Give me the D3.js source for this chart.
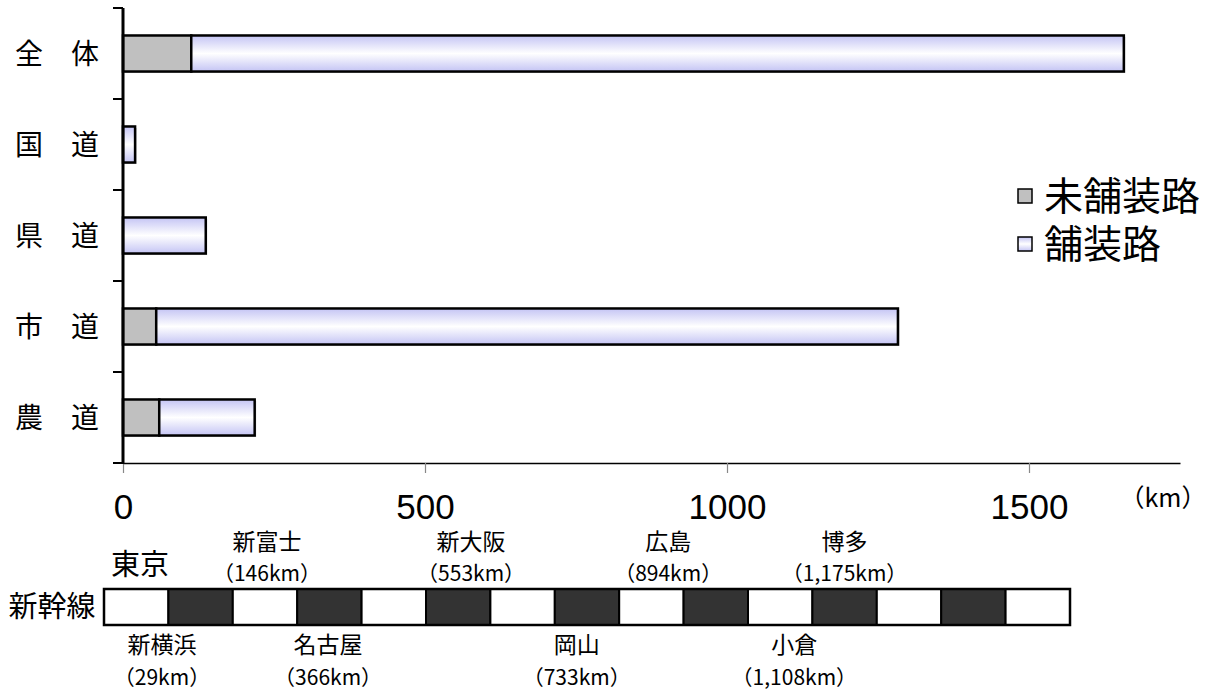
<!DOCTYPE html>
<html>
<head>
<meta charset="utf-8">
<script src="https://cdn.jsdelivr.net/npm/d3@7"></script>
<style>
	body { margin: 0; background: #fff; }
	svg { display: block; }
	text { fill: #000; }
</style>
</head>
<body>
<div id="chart"></div>
<script>
// road categories and lengths (km)
var categories = ['全　体', '国　道', '県　道', '市　道', '農　道'];
var unpaved = [113, 0, 0, 55, 60];
var paved = [1544, 20, 137, 1228, 158];
var xTicks = [0, 500, 1000, 1500];
var seriesNames = ['未舗装路', '舗装路'];

// shinkansen strip: 0 = white block, 1 = dark block
var railBlocks = [0, 1, 0, 1, 0, 1, 0, 1, 0, 1, 0, 1, 0, 1, 0];
var stationNames = ['東京', '新横浜', '新富士', '名古屋', '新大阪', '岡山', '広島', '小倉', '博多'];
var stationKm = [null, '29km', '146km', '366km', '553km', '733km', '894km', '1,108km', '1,175km'];
var stationSide = ['top', 'bottom', 'top', 'bottom', 'top', 'bottom', 'top', 'bottom', 'top'];

(function () {
	var width = 1210;
	var height = 693;
	var cjk = '"Noto Sans CJK JP", sans-serif';
	var paveLight = '#c4c4f4';
	var unpavedFill = '#c0c0c0';
	var darkBlock = '#333333';

	// label anchors along the strip, in block units (layout only)
	var stationSlot = [0.56, 0.9, 2.53, 3.48, 5.7, 7.34, 8.76, 10.72, 11.5];

	var svg = d3.select('#chart').append('svg')
		.attr('width', width).attr('height', height)
		.style('font-family', cjk);

	var defs = svg.append('defs');
	var grad = defs.append('linearGradient')
		.attr('id', 'paveGrad')
		.attr('x1', 0).attr('y1', 0).attr('x2', 0).attr('y2', 1);
	grad.append('stop').attr('offset', '0%').attr('stop-color', paveLight);
	grad.append('stop').attr('offset', '50%').attr('stop-color', '#ffffff');
	grad.append('stop').attr('offset', '100%').attr('stop-color', paveLight);

	///////////////////////////////////////////////////////////////////////////
	////////// scales /////////////////////////////////////////////////////////
	///////////////////////////////////////////////////////////////////////////
	var x = d3.scaleLinear()
		.domain([0, 1750])
		.range([123, 1180]);

	var y = d3.scaleBand()
		.domain(categories)
		.range([8, 463])
		.paddingInner(0.604)
		.paddingOuter(0.302);

	var rows = categories.map((c, i) => ({
		name: c,
		unpaved: unpaved[i],
		paved: paved[i]
	}));

	///////////////////////////////////////////////////////////////////////////
	////////// bars ///////////////////////////////////////////////////////////
	///////////////////////////////////////////////////////////////////////////
	var bars = svg.append('g').classed('bars', true)
		.selectAll('g')
		.data(rows)
		.enter().append('g');

	// faint drop shadow behind each full bar
	bars.append('rect')
		.attr('x', x(0) + 1.5)
		.attr('y', d => y(d.name) + 1.5)
		.attr('width', d => x(d.unpaved + d.paved) - x(0))
		.attr('height', y.bandwidth())
		.attr('fill', '#999')
		.attr('opacity', 0.6);

	bars.filter(d => d.unpaved > 0).append('rect')
		.attr('x', x(0))
		.attr('y', d => y(d.name))
		.attr('width', d => x(d.unpaved) - x(0))
		.attr('height', y.bandwidth())
		.attr('fill', unpavedFill)
		.attr('stroke', '#000')
		.attr('stroke-width', 2.5);

	bars.append('rect')
		.attr('x', d => x(d.unpaved))
		.attr('y', d => y(d.name))
		.attr('width', d => x(d.unpaved + d.paved) - x(d.unpaved))
		.attr('height', y.bandwidth())
		.attr('fill', 'url(#paveGrad)')
		.attr('stroke', '#000')
		.attr('stroke-width', 2.5);

	///////////////////////////////////////////////////////////////////////////
	////////// axes ///////////////////////////////////////////////////////////
	///////////////////////////////////////////////////////////////////////////
	var xAxis = svg.append('g')
		.attr('transform', 'translate(0,463)')
		.call(d3.axisBottom(x)
			.tickValues(xTicks)
			.tickFormat(d3.format('d'))
			.tickSize(10)
			.tickSizeOuter(0));
	xAxis.select('.domain').attr('stroke', '#000').attr('stroke-width', 1.5);
	xAxis.selectAll('.tick line').attr('stroke', '#888').attr('stroke-width', 1.2);
	xAxis.selectAll('.tick text')
		.style('font-family', '"Liberation Sans", Arial, sans-serif')
		.attr('font-size', 35)
		.attr('fill', '#000')
		.attr('dy', '0.36em')
		.attr('y', 43);

	var yTickPos = d3.range(categories.length + 1).map(i => 8 + i * y.step());
	svg.append('g').selectAll('line')
		.data(yTickPos)
		.enter().append('line')
		.attr('x1', 113).attr('x2', 123)
		.attr('y1', d => d).attr('y2', d => d)
		.attr('stroke', '#000').attr('stroke-width', 2);

	svg.append('line')
		.attr('x1', 123).attr('x2', 123)
		.attr('y1', 8).attr('y2', 464)
		.attr('stroke', '#000').attr('stroke-width', 3);

	svg.append('g').selectAll('text')
		.data(categories)
		.enter().append('text')
		.attr('x', 57)
		.attr('y', d => y(d) + y.bandwidth() / 2)
		.attr('dy', '0.36em')
		.attr('text-anchor', 'middle')
		.attr('font-size', 28)
		.text(d => d);

	svg.append('text')
		.attr('x', 1163).attr('y', 498)
		.attr('dy', '0.36em')
		.attr('text-anchor', 'middle')
		.attr('font-size', 25)
		.text('（km）');

	///////////////////////////////////////////////////////////////////////////
	////////// legend /////////////////////////////////////////////////////////
	///////////////////////////////////////////////////////////////////////////
	var legend = svg.append('g').selectAll('g')
		.data(seriesNames)
		.enter().append('g')
		.attr('transform', (d, i) => 'translate(1018,' + (189 + i * 48) + ')');
	legend.append('rect')
		.attr('width', 14).attr('height', 14)
		.attr('fill', (d, i) => i === 0 ? unpavedFill : 'url(#paveGrad)')
		.attr('stroke', '#000')
		.attr('stroke-width', 1.5);
	legend.append('text')
		.attr('x', 26).attr('y', 7)
		.attr('dy', '0.36em')
		.attr('font-size', 39)
		.text(d => d);

	///////////////////////////////////////////////////////////////////////////
	////////// shinkansen strip ///////////////////////////////////////////////
	///////////////////////////////////////////////////////////////////////////
	var rail = d3.scaleBand()
		.domain(d3.range(railBlocks.length))
		.range([104, 1070]);
	var railTop = 589;
	var railH = 36;
	var unit = d3.scaleLinear()
		.domain([0, railBlocks.length])
		.range([104, 1070]);

	svg.append('g').selectAll('rect')
		.data(railBlocks)
		.enter().append('rect')
		.attr('x', (d, i) => rail(i))
		.attr('y', railTop)
		.attr('width', rail.bandwidth())
		.attr('height', railH)
		.attr('fill', d => d ? darkBlock : '#fff')
		.attr('stroke', '#000')
		.attr('stroke-width', 2);

	svg.append('rect')
		.attr('x', 104).attr('y', railTop)
		.attr('width', 966).attr('height', railH)
		.attr('fill', 'none')
		.attr('stroke', '#000')
		.attr('stroke-width', 2.5);

	svg.append('text')
		.attr('x', 52).attr('y', 607)
		.attr('dy', '0.36em')
		.attr('text-anchor', 'middle')
		.attr('font-size', 29)
		.text('新幹線');

	var stations = stationNames.map((n, i) => ({
		name: n,
		km: stationKm[i],
		side: stationSide[i],
		x: unit(stationSlot[i])
	}));

	var st = svg.append('g').selectAll('g')
		.data(stations)
		.enter().append('g')
		.attr('transform', d => 'translate(' + d.x + ',0)');

	st.append('text')
		.attr('text-anchor', 'middle')
		.attr('dy', '0.36em')
		.attr('y', d => d.km === null ? 565 : (d.side === 'top' ? 542 : 645))
		.attr('font-size', d => d.km === null ? 29 : 23)
		.text(d => d.name);

	st.filter(d => d.km !== null).append('text')
		.attr('text-anchor', 'middle')
		.attr('dy', '0.36em')
		.attr('y', d => d.side === 'top' ? 573 : 677)
		.attr('font-size', 21)
		.text(d => '（' + d.km + '）');
})();
</script>
</body>
</html>
